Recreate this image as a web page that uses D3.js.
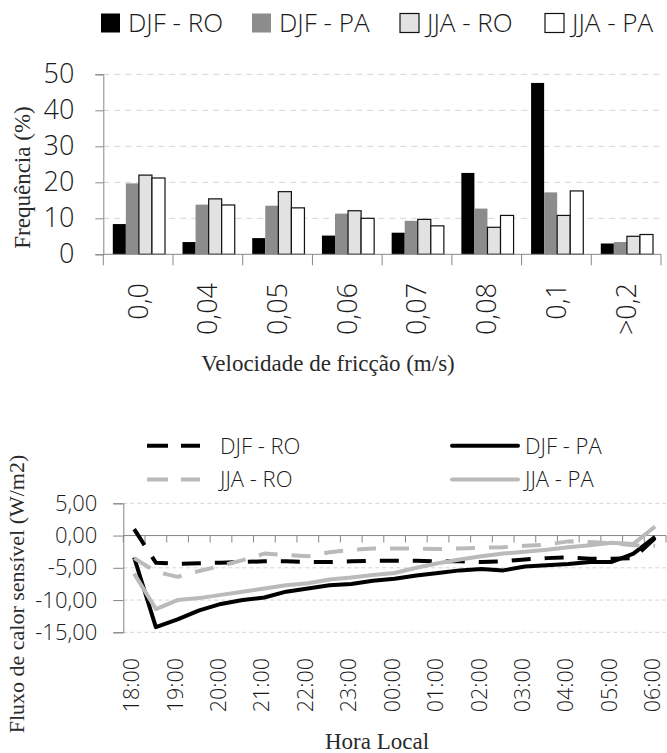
<!DOCTYPE html>
<html>
<head>
<meta charset="utf-8">
<script src="https://cdn.jsdelivr.net/npm/d3@7"></script>
<style>
  body { margin: 0; background: #fff; }
  svg { display: block; }
  .sans { font-family: 'Open Sans', 'DejaVu Sans', sans-serif; font-weight: 300; }
</style>
</head>
<body>
<svg id="chart" width="667" height="753"></svg>
<script>
// ---------- Data: bar chart ----------
const barCategories = ["0,0", "0,04", "0,05", "0,06", "0,07", "0,08", "0,1", ">0,2"];
const barSeries = ["DJF - RO", "DJF - PA", "JJA - RO", "JJA - PA"];
const djfRO_freq = [8.4, 3.4, 4.5, 5.2, 6.0, 22.6, 47.6, 3.0];
const djfPA_freq = [19.7, 13.8, 13.5, 11.3, 9.3, 12.7, 17.2, 3.4];
const jjaRO_freq = [22.0, 15.4, 17.4, 12.1, 9.7, 7.5, 10.8, 5.0];
const jjaPA_freq = [21.2, 13.7, 12.9, 10.0, 7.9, 10.8, 17.6, 5.5];
const barYTicks = [0, 10, 20, 30, 40, 50];

// ---------- Data: line chart ----------
const times = ["18:00","18:30","19:00","19:30","20:00","20:30","21:00","21:30","22:00","22:30",
               "23:00","23:30","00:00","00:30","01:00","01:30","02:00","02:30","03:00","03:30",
               "04:00","04:30","05:00","05:30","06:00"];
const lineSeries = ["DJF - RO", "DJF - PA", "JJA - RO", "JJA - PA"];
const djfRO_flux = [1.0, -4.2, -4.4, -4.3, -4.2, -4.1, -4.0, -4.0, -4.1, -4.1, -4.0, -3.9, -3.9,
                    -3.9, -4.0, -4.0, -4.1, -4.0, -3.7, -3.5, -3.4, -3.6, -3.6, -3.5, -0.4];
const djfPA_flux = [-3.4, -14.2, -13.0, -11.6, -10.6, -10.0, -9.6, -8.7, -8.2, -7.7, -7.5, -7.0, -6.7,
                    -6.2, -5.8, -5.4, -5.2, -5.4, -4.8, -4.6, -4.4, -4.1, -4.1, -2.8, -0.2];
const jjaRO_flux = [-3.5, -5.6, -6.4, -5.5, -4.7, -3.8, -2.8, -3.0, -3.2, -2.6, -2.2, -2.0, -2.0,
                    -2.0, -2.1, -2.0, -1.9, -1.8, -1.6, -1.4, -0.9, -1.0, -1.2, -1.5, -1.6];
const jjaPA_flux = [-5.9, -11.4, -10.0, -9.7, -9.2, -8.7, -8.2, -7.7, -7.4, -6.8, -6.5, -6.1, -5.8,
                    -5.0, -4.3, -3.7, -3.2, -2.8, -2.5, -2.2, -1.8, -1.5, -1.1, -1.3, 1.4];
const lineYTicks = [5, 0, -5, -10, -15];
const hourLabels = ["18:00","19:00","20:00","21:00","22:00","23:00","00:00","01:00","02:00","03:00","04:00","05:00","06:00"];

// ---------- Styling ----------
const SERIF = "'Liberation Serif', 'DejaVu Serif', serif";
const AXIS = "#868686";
const GRID = "#d4d4d4";
const TXT = "#1a1a1a";

const svg = d3.select("#chart");

// =============== BAR CHART ===============
(function () {
  const left = 103.3, right = 661, top = 74.3, bottom = 254.3;
  const fills = ["#000000", "#8c8c8c", "#e2e2e2", "#ffffff"];
  const strokes = ["none", "none", "#111", "#111"];
  const vals = [djfRO_freq, djfPA_freq, jjaRO_freq, jjaPA_freq];

  const x0 = d3.scaleBand().domain(barCategories).range([left, right]).padding(0);
  const x1 = d3.scaleBand().domain(barSeries).range([9.5, x0.bandwidth() - 8]).padding(0);
  const y = d3.scaleLinear().domain([0, 50]).range([bottom, top]);

  const g = svg.append("g");

  g.selectAll("line.grid").data(barYTicks.filter(d => d > 0)).join("line")
    .attr("x1", left).attr("x2", right)
    .attr("y1", d => y(d)).attr("y2", d => y(d))
    .attr("stroke", GRID).attr("stroke-width", 1).attr("stroke-dasharray", "6,5");

  barSeries.forEach((s, si) => {
    g.selectAll("rect.s" + si).data(barCategories).join("rect")
      .attr("x", c => x0(c) + x1(s))
      .attr("y", (c, i) => y(vals[si][i]))
      .attr("width", x1.bandwidth())
      .attr("height", (c, i) => y(0) - y(vals[si][i]))
      .attr("fill", fills[si])
      .attr("stroke", strokes[si])
      .attr("stroke-width", 1.2);
  });

  const yAxis = d3.axisLeft(y).tickValues(barYTicks).tickSize(8).tickPadding(21).tickFormat(d3.format("d"));
  const ya = g.append("g").attr("transform", `translate(${left},0)`).call(yAxis);
  ya.attr("font-family", null);
  ya.select(".domain").attr("stroke", AXIS);
  ya.selectAll(".tick line").attr("stroke", AXIS);
  ya.selectAll(".tick text").attr("class", "sans").attr("font-size", 27).attr("fill", TXT);

  g.append("line").attr("x1", left).attr("x2", right).attr("y1", bottom).attr("y2", bottom)
    .attr("stroke", AXIS);
  const bounds = barCategories.map(c => x0(c)).concat([right]);
  g.selectAll("line.xt").data(bounds).join("line")
    .attr("x1", d => d).attr("x2", d => d).attr("y1", bottom).attr("y2", bottom + 11)
    .attr("stroke", AXIS);

  g.selectAll("text.cat").data(barCategories).join("text")
    .attr("class", "sans")
    .attr("transform", c => `translate(${x0(c) + x0.bandwidth() / 2},283) rotate(-90)`)
    .attr("text-anchor", "end").attr("dy", "0.35em")
    .attr("font-size", 27).attr("fill", TXT)
    .text(c => c);

  g.append("text").attr("transform", "translate(21.7,177.5) rotate(-90)")
    .attr("text-anchor", "middle").attr("dy", "0.35em")
    .attr("font-family", SERIF).attr("font-size", 23).attr("fill", "#2a2a2a")
    .text("Frequência (%)");
  g.append("text").attr("x", 328).attr("y", 363).attr("dy", "0.35em")
    .attr("text-anchor", "middle")
    .attr("font-family", SERIF).attr("font-size", 23).attr("fill", "#2a2a2a")
    .text("Velocidade de fricção (m/s)");

  const legX = [101, 252, 400, 545];
  barSeries.forEach((s, si) => {
    g.append("rect").attr("x", legX[si]).attr("y", 13.5).attr("width", 19).attr("height", 19)
      .attr("fill", fills[si]).attr("stroke", si >= 2 ? "#111" : "none").attr("stroke-width", 1.2);
    g.append("text").attr("class", "sans").attr("x", legX[si] + 27).attr("y", 23).attr("dy", "0.36em")
      .attr("font-size", 26).attr("fill", TXT)
      .text(s);
  });
})();

// =============== LINE CHART ===============
(function () {
  const left = 123.3, right = 666, top = 503.3, bottom = 632.3;
  const vals = [djfRO_flux, djfPA_flux, jjaRO_flux, jjaPA_flux];
  const colors = ["#000000", "#000000", "#bababa", "#bababa"];
  const dashes = ["19,14", null, "19,14", null];

  const x = d3.scaleBand().domain(times).range([left, right]).padding(0);
  const y = d3.scaleLinear().domain([-15, 5]).range([bottom, top]);
  const cx = t => x(t) + x.bandwidth() / 2;

  const g = svg.append("g");

  g.selectAll("line.grid").data(lineYTicks.filter(d => d !== 0)).join("line")
    .attr("x1", left).attr("x2", right)
    .attr("y1", d => y(d)).attr("y2", d => y(d))
    .attr("stroke", GRID).attr("stroke-width", 1).attr("stroke-dasharray", "4,3");

  const fmt = d => d3.format(".2f")(d).replace(".", ",").replace("−", "-");
  const yAxis = d3.axisLeft(y).tickValues(lineYTicks).tickSize(10).tickPadding(16).tickFormat(fmt);
  const ya = g.append("g").attr("transform", `translate(${left},0)`).call(yAxis);
  ya.attr("font-family", null);
  ya.select(".domain").attr("stroke", AXIS);
  ya.selectAll(".tick line").attr("stroke", AXIS);
  ya.selectAll(".tick text").attr("class", "sans").attr("font-size", 22).attr("fill", TXT);

  g.append("line").attr("x1", left).attr("x2", right).attr("y1", y(0)).attr("y2", y(0))
    .attr("stroke", AXIS);
  const bounds = times.map(t => x(t)).concat([right]);
  g.selectAll("line.xt").data(bounds).join("line")
    .attr("x1", d => d).attr("x2", d => d).attr("y1", y(0)).attr("y2", y(0) + 7)
    .attr("stroke", AXIS);

  g.selectAll("text.hr").data(hourLabels).join("text")
    .attr("class", "sans")
    .attr("transform", h => `translate(${cx(h) - 2.5},658) rotate(-90)`)
    .attr("text-anchor", "end").attr("dy", "0.35em")
    .attr("font-size", 21.5).attr("fill", TXT)
    .text(h => h);

  const line = d3.line().x((d, i) => cx(times[i])).y(d => y(d));
  lineSeries.forEach((s, si) => {
    g.append("path").datum(vals[si])
      .attr("d", line)
      .attr("fill", "none")
      .attr("stroke", colors[si])
      .attr("stroke-width", 4)
      .attr("stroke-linejoin", "round")
      .attr("stroke-dasharray", dashes[si]);
  });

  const leg = [
    { x1: 147, x2: 200, tx: 220, y: 445.7 },
    { x1: 452, x2: 518, tx: 525, y: 445.7 },
    { x1: 147, x2: 200, tx: 220, y: 479.5 },
    { x1: 452, x2: 518, tx: 525, y: 479.5 }
  ];
  lineSeries.forEach((s, si) => {
    const L = leg[si];
    g.append("line").attr("x1", L.x1).attr("x2", L.x2).attr("y1", L.y).attr("y2", L.y)
      .attr("stroke", colors[si]).attr("stroke-width", 4)
      .attr("stroke-linecap", dashes[si] ? "butt" : "round")
      .attr("stroke-dasharray", dashes[si] ? "21,13" : null);
    g.append("text").attr("class", "sans").attr("x", L.tx).attr("y", L.y).attr("dy", "0.36em")
      .attr("font-size", 22).attr("fill", TXT)
      .text(s);
  });

  g.append("text").attr("transform", "translate(16,594) rotate(-90)")
    .attr("text-anchor", "middle").attr("dy", "0.35em")
    .attr("font-family", SERIF).attr("font-size", 22).attr("fill", "#2a2a2a")
    .text("Fluxo de calor sensível (W/m2)");
  g.append("text").attr("x", 377).attr("y", 741).attr("dy", "0.35em")
    .attr("text-anchor", "middle")
    .attr("font-family", SERIF).attr("font-size", 23).attr("fill", "#2a2a2a")
    .text("Hora Local");
})();
</script>
</body>
</html>
